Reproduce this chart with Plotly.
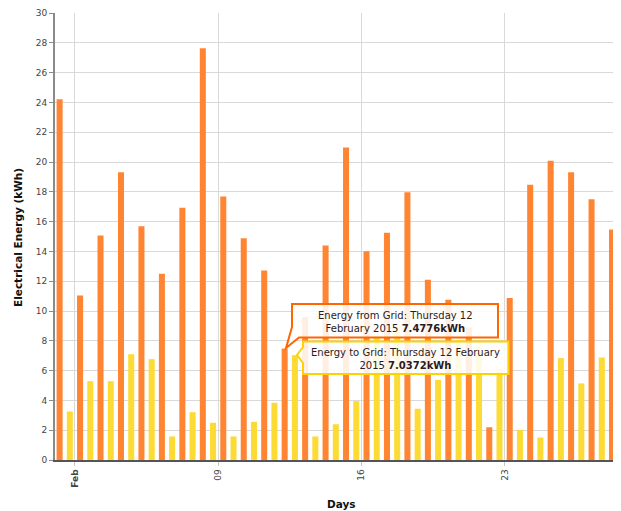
import plotly.graph_objects as go
import pandas as pd

# ---------------- data ----------------
days = pd.date_range("2015-02-01", "2015-02-28", freq="D").strftime("%Y-%m-%d").tolist()

from_grid = [24.21, 11.04, 15.07, 19.32, 15.69, 12.50, 16.93, 27.64, 17.68, 14.89,
             12.72, 7.4776, 9.60, 14.40, 20.97, 14.01, 15.25, 17.97, 12.10, 10.76,
             8.90, 2.20, 10.87, 18.47, 20.08, 19.32, 17.50, 15.47]

to_grid = [3.26, 5.29, 5.29, 7.10, 6.77, 1.58, 3.21, 2.50, 1.58, 2.56,
           3.84, 7.0372, 1.58, 2.40, 3.95, 8.40, 9.00, 3.44, 5.38, 8.05,
           7.62, 6.12, 2.03, 1.51, 6.84, 5.14, 6.88, 5.67]

tick_dates = ["2015-02-02", "2015-02-09", "2015-02-16", "2015-02-23"]
tick_labels = ["<b>Feb</b>", "09", "16", "23"]

y_ticks = list(range(0, 31, 2))

series_names = ["Energy from Grid", "Energy to Grid"]
hover_index = 11

# ---------------- geometry (page has an 8px body margin) ----------------
OFF = 8
W, H = 621 - OFF, 511 - OFF
ML, MR, MT, MB = 55 - OFF, 0, 13 - OFF, 51
PW, PH = W - ML - MR, H - MT - MB


def px(x):
    """page pixel x -> paper"""
    return (x - OFF - ML) / PW


def py(y):
    """page pixel y -> paper"""
    return (H - MB - (y - OFF)) / PH


def path(points):
    return "M " + " L ".join(f"{px(a):.5f},{py(b):.5f}" for a, b in points) + " Z"


FONT = "DejaVu Sans"

fig = go.Figure()
fig.add_trace(go.Bar(
    x=days, y=from_grid, name=series_names[0],
    marker=dict(color="#FF8533", line=dict(width=0)),
    xperiod=86400000, xperiodalignment="middle", hoverinfo="skip",
))
fig.add_trace(go.Bar(
    x=days, y=to_grid, name=series_names[1],
    marker=dict(color="#FDDB35", line=dict(width=0)),
    xperiod=86400000, xperiodalignment="middle", hoverinfo="skip",
))

x_start = pd.Timestamp("2015-02-01") + pd.Timedelta(hours=0.6)
x_end = x_start + pd.Timedelta(days=PW / 20.46)

fig.update_layout(
    width=W, height=H,
    margin=dict(l=ML, r=MR, t=MT, b=MB, pad=0),
    paper_bgcolor="white", plot_bgcolor="white",
    barmode="group", bargap=0, bargroupgap=0.41,
    showlegend=False,
    font=dict(family=FONT, size=9, color="#444"),
    xaxis=dict(
        type="date", range=[x_start, x_end],
        tickmode="array", tickvals=tick_dates, ticktext=tick_labels,
        tickangle=-90, tickfont=dict(family=FONT, size=9, color="#444"),
        showgrid=True, gridcolor="#d9d9d9", gridwidth=1,
        showline=True, linecolor="#555", linewidth=1.5,
        ticks="outside", ticklen=4, tickcolor="#c8c8c8",
        zeroline=False, fixedrange=True,
    ),
    yaxis=dict(
        range=[0, 30], tickmode="array", tickvals=y_ticks,
        tickfont=dict(family=FONT, size=9, color="#444"),
        showgrid=True, gridcolor="#d9d9d9", gridwidth=1,
        showline=True, linecolor="#8a8a8a", linewidth=2,
        ticks="outside", ticklen=4, tickcolor="#8a8a8a",
        zeroline=False, fixedrange=True,
    ),
)

# axis titles
fig.add_annotation(
    text="<b>Electrical Energy (kWh)</b>", textangle=-90,
    xref="paper", yref="paper", x=px(18), y=py(237),
    xanchor="center", yanchor="middle", showarrow=False,
    font=dict(family=FONT, size=10.5, color="#111"),
)
fig.add_annotation(
    text="<b>Days</b>",
    xref="paper", yref="paper", x=px(341), y=py(504),
    xanchor="center", yanchor="middle", showarrow=False,
    font=dict(family=FONT, size=10.5, color="#111"),
)

# balloons (tooltips)
fig.add_shape(
    type="path", xref="paper", yref="paper",
    path=path([(292, 304), (498, 304), (498, 337.5), (299, 337.5), (286, 348), (292, 327)]),
    line=dict(color="#FF6600", width=2), fillcolor="rgba(255,255,255,0.86)", layer="above",
)
fig.add_shape(
    type="path", xref="paper", yref="paper",
    path=path([(303, 341.5), (508.5, 341.5), (508.5, 374), (303, 374), (303, 363), (297, 355), (303, 347)]),
    line=dict(color="#FCD202", width=2), fillcolor="rgba(255,255,255,0.86)", layer="above",
)

fig.add_annotation(
    text=f"{series_names[0]}: Thursday 12<br>February 2015 <b>{from_grid[hover_index]:.4f}kWh</b>",
    xref="paper", yref="paper", x=px(395), y=py(321.5),
    xanchor="center", yanchor="middle", showarrow=False, align="center",
    font=dict(family=FONT, size=10, color="#2a1a22"),
)
fig.add_annotation(
    text=f"{series_names[1]}: Thursday 12 February<br>2015 <b>{to_grid[hover_index]:.4f}kWh</b>",
    xref="paper", yref="paper", x=px(405.5), y=py(358.5),
    xanchor="center", yanchor="middle", showarrow=False, align="center",
    font=dict(family=FONT, size=10, color="#2a1a22"),
)

fig.write_html("out.html")
